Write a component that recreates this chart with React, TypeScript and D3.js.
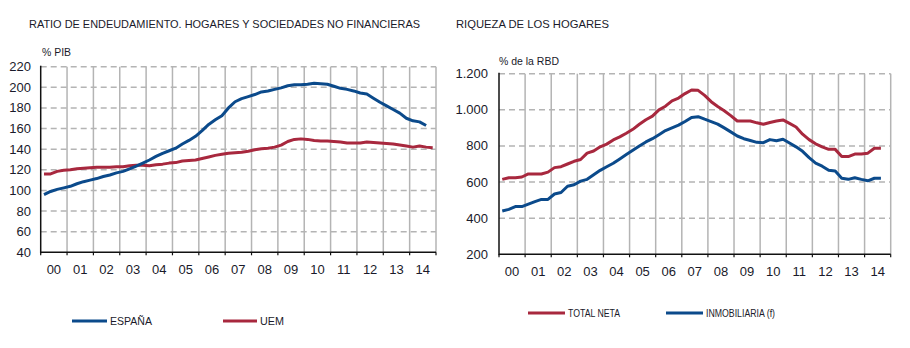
import React from 'react';
import * as d3 from 'd3';

const years = ['00','01','02','03','04','05','06','07','08','09','10','11','12','13','14'];
const leftTicks = [40,60,80,100,120,140,160,180,200,220];
const rightTicks = [200,400,600,800,1000,1200];

const espana = [96,99,101,102.5,104,106.5,108.5,110,111.5,113.5,115,117,118.5,121,123.5,126.5,129.5,133,136,138.5,141,145,148.5,152.5,158,164,168.5,172.5,180,186,189,191,193,195.5,196.5,198,199.5,201.5,202.5,202.5,203,204,203.5,203,201,199,198,196.5,194.5,193.5,189.5,185.5,182,178.5,175,170,167.5,166.5,163];
const uem = [116,116,118.5,119.5,120,121,121.5,122,122.5,122.5,122.5,123,123,124,124.5,124.5,124,125,125.5,126.5,127,128.5,129,129.5,131,132.5,134,135,136,136.5,137,138,139.5,140.5,141,142,144,147.5,149.5,150,149.5,148.5,148,148,147.5,147,146,146,146,147,146.5,146,145.5,145,144,143,142,143,142,141.5];
const totalNeta = [615,624,624,628,645,645,645,655,680,685,700,715,725,760,772,795,810,833,850,870,892,920,945,965,1000,1020,1050,1065,1090,1110,1108,1080,1045,1018,995,968,938,938,938,928,920,930,938,944,925,905,865,835,812,795,781,781,741,741,755,755,760,787,787];
const inmobiliaria = [440,449,464,464,478,492,504,504,534,542,577,585,605,615,640,665,685,704,728,752,776,800,822,840,862,885,900,915,935,958,962,948,935,921,900,878,855,840,830,820,818,835,829,837,816,795,770,735,705,688,665,661,621,615,624,615,607,621,621];

const BLUE = '#0b4a8b';
const RED = '#a8283e';
const GRID = '#b4b4b4';
const TXT = '#1a1a2a';
const FONT = '"Liberation Sans", Arial, sans-serif';

const fmtR = d3.formatLocale({ decimal: ',', thousands: '.', grouping: [3], currency: ['', ''] }).format(',');

type PanelProps = {
  x0: number; x1: number; yTop: number; yBot: number;
  domain: [number, number]; ticks: number[]; fmt: (v: number) => string;
  series: { values: number[]; color: string }[];
  labelY: number; tickLabelRight: number;
};

function Panel({ x0, x1, yTop, yBot, domain, ticks, fmt, series, labelY, tickLabelRight }: PanelProps) {
  const x = d3.scaleLinear().domain([2000, 2015]).range([x0, x1]);
  const y = d3.scaleLinear().domain(domain).range([yBot, yTop]);
  const line = d3.line<number>()
    .x((_, i) => x(2000 + (i + 0.5) / 4))
    .y((v) => y(v))
    .curve(d3.curveLinear);
  const bounds = d3.range(2000, 2016);
  return (
    <g>
      {ticks.filter((t) => t !== domain[0]).map((t) => (
        <line key={'h' + t} x1={x0} x2={x1} y1={y(t)} y2={y(t)} stroke={GRID} strokeWidth={1.5} strokeDasharray="6,4" />
      ))}
      {bounds.slice(1).map((b) => (
        <line key={'v' + b} x1={x(b)} x2={x(b)} y1={yTop} y2={yBot} stroke={GRID} strokeWidth={1.5} />
      ))}
      {series.map((s, i) => (
        <path key={i} d={line(s.values) || ''} fill="none" stroke={s.color} strokeWidth={3} strokeLinejoin="round" />
      ))}
      <line x1={x0} x2={x0} y1={yTop - 1} y2={yBot + 1} stroke="#111" strokeWidth={1.5} />
      <line x1={x0} x2={x1} y1={yBot} y2={yBot} stroke="#111" strokeWidth={1.5} />
      {bounds.map((b) => (
        <line key={'t' + b} x1={x(b)} x2={x(b)} y1={yBot} y2={yBot + 3} stroke="#111" strokeWidth={1.2} />
      ))}
      {ticks.map((t) => (
        <text key={'yl' + t} x={tickLabelRight} y={y(t)} dy="0.35em" textAnchor="end" fontSize={13} fill={TXT} fontFamily={FONT}>{fmt(t)}</text>
      ))}
      {years.map((lab, i) => (
        <text key={'xl' + lab} x={x(2000 + i + 0.5)} y={labelY} textAnchor="middle" fontSize={13} fill={TXT} fontFamily={FONT}>{lab}</text>
      ))}
    </g>
  );
}

function Legend({ x, y, color, label, len, textLen }: { x: number; y: number; color: string; label: string; len: number; textLen: number }) {
  return (
    <g>
      <line x1={x} x2={x + len} y1={y} y2={y} stroke={color} strokeWidth={3} />
      <text x={x + len + 3} y={y + 4} fontSize={11} fill={TXT} fontFamily={FONT} textLength={textLen} lengthAdjust="spacingAndGlyphs">{label}</text>
    </g>
  );
}

export default function App() {
  return (
    <svg width={910} height={348} style={{ position: 'absolute', left: 0, top: 0, background: '#fff' }}>
      <rect width={910} height={348} fill="#fff" />
      <text x={29} y={28} fontSize={11} fill={TXT} fontFamily={FONT} textLength={391} lengthAdjust="spacingAndGlyphs">RATIO DE ENDEUDAMIENTO. HOGARES Y SOCIEDADES  NO FINANCIERAS</text>
      <text x={456} y={28} fontSize={11} fill={TXT} fontFamily={FONT} textLength={153} lengthAdjust="spacingAndGlyphs">RIQUEZA DE LOS HOGARES</text>
      <text x={42} y={56} fontSize={11} fill={TXT} fontFamily={FONT} textLength={29} lengthAdjust="spacingAndGlyphs">% PIB</text>
      <text x={499} y={65} fontSize={11} fill={TXT} fontFamily={FONT} textLength={60} lengthAdjust="spacingAndGlyphs">% de la RBD</text>
      <Panel x0={40.7} x1={436} yTop={66.7} yBot={252.3} domain={[40, 220]} ticks={leftTicks} fmt={(v) => String(v)}
        series={[{ values: uem, color: RED }, { values: espana, color: BLUE }]} labelY={273.5} tickLabelRight={31} />
      <Panel x0={499} x1={890.7} yTop={73.7} yBot={254.3} domain={[200, 1200]} ticks={rightTicks} fmt={(v) => fmtR(v)}
        series={[{ values: totalNeta, color: RED }, { values: inmobiliaria, color: BLUE }]} labelY={276} tickLabelRight={488} />
      <Legend x={72} y={321} color={BLUE} label="ESPAÑA" len={35} textLen={42} />
      <Legend x={223} y={321} color={RED} label="UEM" len={34} textLen={24} />
      <Legend x={528} y={313} color={RED} label="TOTAL NETA" len={37} textLen={52} />
      <Legend x={666} y={313} color={BLUE} label="INMOBILIARIA (f)" len={37} textLen={69} />
    </svg>
  );
}
